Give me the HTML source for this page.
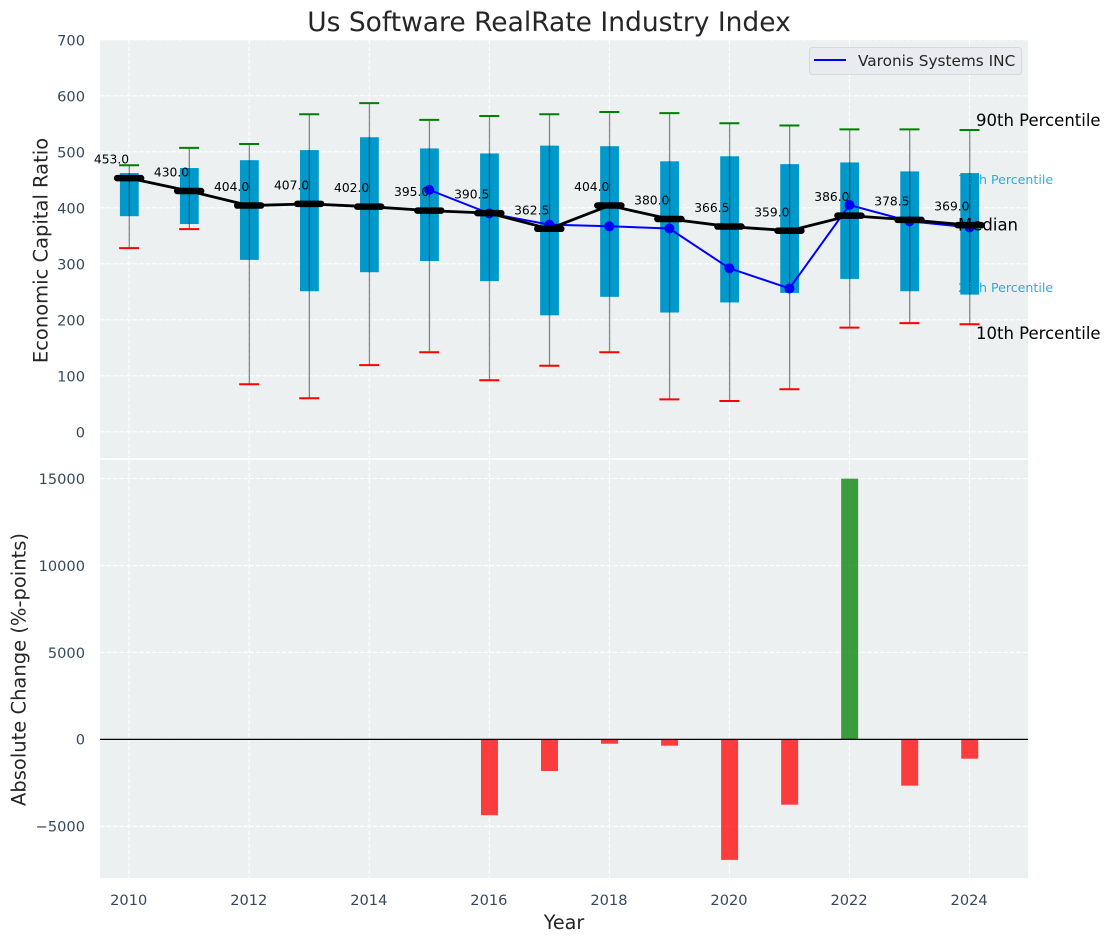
<!DOCTYPE html>
<html>
<head>
<meta charset="utf-8">
<title>Us Software RealRate Industry Index</title>
<style>
html,body{margin:0;padding:0;background:#fff;}
svg{display:block;font-family:"DejaVu Sans","Liberation Sans",sans-serif;}
</style>
</head>
<body>
<svg id="chart" xmlns="http://www.w3.org/2000/svg" width="1111" height="942" viewBox="0 0 1111 942">
  <rect x="0" y="0" width="1111" height="942" fill="#ffffff"/>
  <rect x="100" y="40" width="928" height="418" fill="#ecf0f1"/>
  <rect x="100" y="460" width="928" height="418" fill="#ecf0f1"/>
  <g id="grid"></g>
  <g id="boxes"></g>
  <g id="whiskers"></g>
  <g id="company"></g>
  <g id="medians"></g>
  <g id="bars"></g>
  <line x1="100" x2="1028" y1="739.4" y2="739.4" stroke="#000" stroke-width="1.3"/>
  <g id="ticks"></g>
  <text x="549" y="31" text-anchor="middle" font-size="26.5" fill="#262626">Us Software RealRate Industry Index</text>
  <text transform="translate(47.5,250.5) rotate(-90)" text-anchor="middle" font-size="19.5" fill="#262626">Economic Capital Ratio</text>
  <text transform="translate(25.5,669.5) rotate(-90)" text-anchor="middle" font-size="19.5" fill="#262626">Absolute Change (%-points)</text>
  <text x="564" y="929" text-anchor="middle" font-size="19.2" fill="#262626">Year</text>
  <g>
    <rect x="809.5" y="47.5" width="212" height="27" rx="3" fill="#e9ebf0" stroke="#d5d8dc" stroke-width="1"/>
    <line x1="814" x2="846" y1="60" y2="60" stroke="#0000ff" stroke-width="2"/>
    <text x="858" y="66" font-size="15.3" fill="#262626">Varonis Systems INC</text>
  </g>
  <g>
    <text x="976" y="126" font-size="16.5" fill="#000">90th Percentile</text>
    <text x="958" y="184" font-size="12.6" fill="#0099cc" fill-opacity="0.8">75th Percentile</text>
    <text x="958" y="230.5" font-size="16.5" fill="#000">Median</text>
    <text x="958" y="292" font-size="12.6" fill="#0099cc" fill-opacity="0.8">25th Percentile</text>
    <text x="976" y="339" font-size="16.5" fill="#000">10th Percentile</text>
  </g>
</svg>
<script>
const years = [2010,2011,2012,2013,2014,2015,2016,2017,2018,2019,2020,2021,2022,2023,2024];
const p90 = [476,507,514,567,587,557,564,567,571,569,551,547,540,540,539];
const q3 = [462,471,485,503,526,506,497,511,510,483,492,478,481,465,462];
const medianValues = [453,430,404,407,402,395,390.5,362.5,404,380,366.5,359,386,378.5,369];
const q1 = [385,371,307,251,285,305,269,208,241,213,231,248,273,251,245];
const p10 = [328,362,85,60,119,142,92,118,142,58,55,76,186,194,192];
const companyYears = [2015,2016,2017,2018,2019,2020,2021,2022,2023,2024];
const companyValues = [432,390,370,367,363,292,256,405,376,365];
const changeYears = [2016,2017,2018,2019,2020,2021,2022,2023,2024];
const changeValues = [-4360,-1820,-250,-360,-6930,-3755,15000,-2660,-1110];
const topTicks = [0,100,200,300,400,500,600,700];
const bottomTicks = [-5000,0,5000,10000,15000];
const xTicks = [2010,2012,2014,2016,2018,2020,2022,2024];

const SVGNS = 'http://www.w3.org/2000/svg';
const xScale = function (year) { return 129.1 + (year - 2010) * 60.03; };
const yTop = function (value) { return 431.8 - value * 0.56; };
const yBottom = function (value) { return 739.4 - value * 260.8 / 15000; };

function make(tag, parentId, props) {
  const node = document.createElementNS(SVGNS, tag);
  Object.keys(props).forEach(function (k) { node.setAttribute(k, props[k]); });
  document.getElementById(parentId).appendChild(node);
  return node;
}

/* grid */
xTicks.forEach(function (year) {
  [[40,458],[460,878]].forEach(function (span, i) {
    const gridV = make('line', 'grid', {x1:xScale(year), x2:xScale(year), y1:span[0], y2:span[1], stroke:'#ffffff', 'stroke-width':1.1, 'stroke-dasharray':'4.5 2'});
    
    
  });
});
topTicks.forEach(function (v) {
  const gridT = make('line', 'grid', {x1:100, x2:1028, y1:yTop(v), y2:yTop(v), stroke:'#ffffff', 'stroke-width':1.1, 'stroke-dasharray':'4.5 2'});
  
  
  const tickT = make('text', 'ticks', {x:85, y:yTop(v) + 5.5, 'text-anchor':'end', 'font-size':14.6, fill:'#34495e'});
  tickT.textContent = String(v);
  
  
});
bottomTicks.forEach(function (v) {
  const gridB = make('line', 'grid', {x1:100, x2:1028, y1:yBottom(v), y2:yBottom(v), stroke:'#ffffff', 'stroke-width':1.1, 'stroke-dasharray':'4.5 2'});
  
  
  const tickB = make('text', 'ticks', {x:85, y:yBottom(v) + 5.3, 'text-anchor':'end', 'font-size':14.6, fill:'#34495e'});
  tickB.textContent = String(v).replace('-', '\u2212');
  
  
});
xTicks.forEach(function (year) {
  const tickX = make('text', 'ticks', {x:xScale(year) - 0.4, y:905, 'text-anchor':'middle', 'font-size':14.6, fill:'#34495e'});
  tickX.textContent = String(year);
  
  
});

/* boxes, whiskers, caps */
years.forEach(function (year, i) {
  const cx = xScale(year);
  const box = make('rect', 'boxes', {x:cx - 9.2, y:yTop(q3[i]), width:18.8, height:yTop(q1[i]) - yTop(q3[i]), fill:'#0099cc'});
  
  
  const whisker = make('line', 'whiskers', {x1:cx + 0.2, x2:cx + 0.2, y1:yTop(p90[i]), y2:yTop(p10[i]), stroke:'#000', 'stroke-opacity':0.45, 'stroke-width':1.3});
  
  
  const capHigh = make('line', 'whiskers', {x1:cx - 10, x2:cx + 10, y1:yTop(p90[i]), y2:yTop(p90[i]), stroke:'#008000', 'stroke-width':2});
  
  
  const capLow = make('line', 'whiskers', {x1:cx - 10, x2:cx + 10, y1:yTop(p10[i]), y2:yTop(p10[i]), stroke:'#ff0000', 'stroke-width':2});
  
  
});

/* company series */
const companyLine = make('polyline', 'company', {
  points: companyYears.map(function (y, i) { return xScale(y) + ',' + yTop(companyValues[i]); }).join(' '),
  fill:'none', stroke:'#0000ff', 'stroke-width':2
});


companyYears.forEach(function (y, i) {
  const dot = make('circle', 'company', {cx:xScale(y), cy:yTop(companyValues[i]), r:5, fill:'#0000ff'});
  
  
});

/* median series */
const medianLine = make('polyline', 'medians', {
  points: years.map(function (y, i) { return xScale(y) + ',' + yTop(medianValues[i]); }).join(' '),
  fill:'none', stroke:'#000', 'stroke-width':2.8
});


years.forEach(function (y, i) {
  const cx = xScale(y), cy = yTop(medianValues[i]);
  const mark = make('line', 'medians', {x1:cx - 12, x2:cx + 12, y1:cy, y2:cy, stroke:'#000', 'stroke-width':6.5, 'stroke-linecap':'round'});
  
  
  const label = make('text', 'medians', {x:cx - 17.6, y:cy - 14.5, 'text-anchor':'middle', 'font-size':12.3, fill:'#000'});
  label.textContent = medianValues[i].toFixed(1);
  
  
});

/* change bars */
changeYears.forEach(function (y, i) {
  const v = changeValues[i];
  const top = Math.min(yBottom(v), yBottom(0));
  const h = Math.abs(yBottom(v) - yBottom(0));
  const bar = make('rect', 'bars', {x:xScale(y) - 8.3, y:top, width:17, height:h, fill: v >= 0 ? '#008000' : '#ff0000', 'fill-opacity':0.75});
  
  
});
</script>
</body>
</html>
